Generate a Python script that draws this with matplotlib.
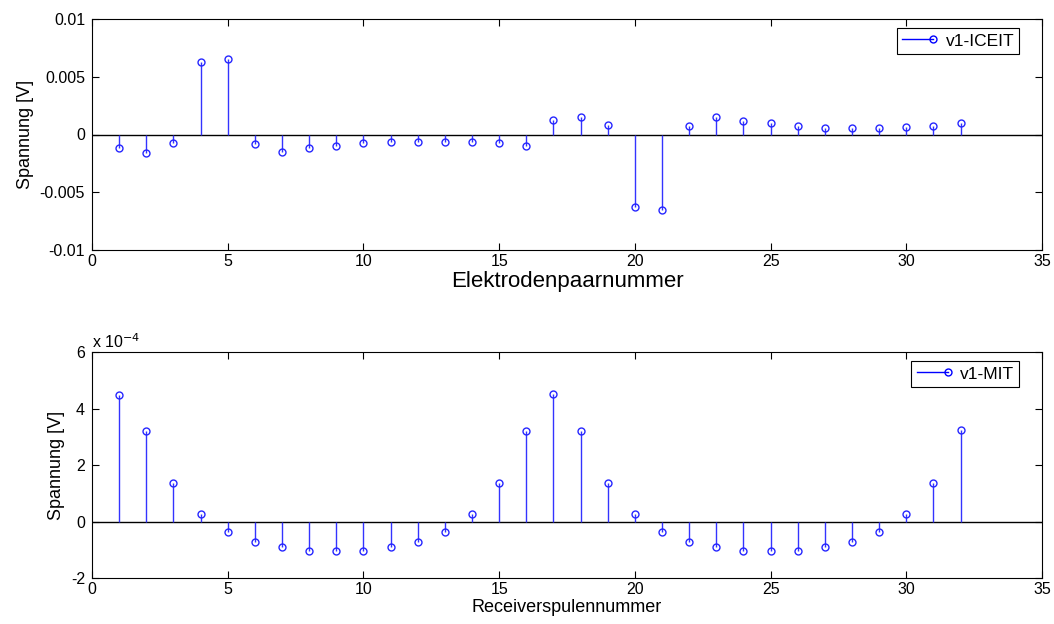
import matplotlib
matplotlib.use("Agg")
import matplotlib.pyplot as plt
from matplotlib.legend_handler import HandlerBase
from matplotlib.lines import Line2D
import numpy as np

plt.rcParams['font.family'] = ['Liberation Sans', 'DejaVu Sans']

# ---- data ----
electrode_pairs = list(range(1, 33))
v1_iceit = [-0.00119, -0.00159, -0.00075, 0.00629, 0.00658, -0.00081, -0.00151, -0.00119,
            -0.00099, -0.00075, -0.00067, -0.00061, -0.00061, -0.00067, -0.00075, -0.00099,
            0.00128, 0.00154, 0.00081, -0.00629, -0.00655, 0.00072, 0.00148, 0.00119,
            0.00099, 0.00075, 0.00058, 0.00058, 0.00058, 0.00067, 0.00072, 0.00099]

receiver_coils = list(range(1, 33))
v1_mit = [4.49e-4, 3.20e-4, 1.36e-4, 0.27e-4, -0.37e-4, -0.73e-4, -0.91e-4, -1.03e-4,
          -1.06e-4, -1.03e-4, -0.91e-4, -0.73e-4, -0.37e-4, 0.26e-4, 1.36e-4, 3.20e-4,
          4.53e-4, 3.20e-4, 1.36e-4, 0.25e-4, -0.37e-4, -0.73e-4, -0.91e-4, -1.03e-4,
          -1.06e-4, -1.03e-4, -0.91e-4, -0.73e-4, -0.37e-4, 0.25e-4, 1.36e-4, 3.23e-4]

x_ticks = [0, 5, 10, 15, 20, 25, 30, 35]
top_yticks = [-0.01, -0.005, 0, 0.005, 0.01]
top_yticklabels = ['-0.01', '-0.005', '0', '0.005', '0.01']
bot_yticks = [-2e-4, 0, 2e-4, 4e-4, 6e-4]
bot_yticklabels = ['-2', '0', '2', '4', '6']


class StemLegendHandler(HandlerBase):
    def create_artists(self, legend, orig_handle, xdescent, ydescent, width, height,
                       fontsize, trans):
        y = height / 2.0 - ydescent
        x0 = -xdescent
        x1 = -xdescent + width * 0.9
        line = Line2D([x0, x1], [y, y], color='b', linewidth=1.0)
        mark = Line2D([x1], [y], linestyle='none', marker='o', markersize=5,
                      markerfacecolor='none', markeredgecolor='b', markeredgewidth=1.0)
        line.set_transform(trans)
        mark.set_transform(trans)
        return [line, mark]


fig = plt.figure(figsize=(10.54, 6.24), dpi=100)
W, H = 1054, 624


def make_axes(left, top, right, bottom):
    return fig.add_axes([left / W, 1 - bottom / H, (right - left) / W, (bottom - top) / H])


def draw(ax, x, y, label, xlabel, xlabel_size, ylim, yticks, yticklabels):
    markerline, stemlines, baseline = ax.stem(x, y, linefmt='b-', markerfmt='bo', basefmt=' ')
    plt.setp(stemlines, linewidth=1.0, color=(0.2, 0.2, 1.0))
    plt.setp(markerline, markersize=5, markerfacecolor='none',
             markeredgecolor=(0.15, 0.15, 1.0), markeredgewidth=1.0)
    ax.axhline(0, color='k', linewidth=1.0, zorder=1)
    ax.set_xlim(0, 35)
    ax.set_ylim(*ylim)
    ax.set_xticks(x_ticks)
    ax.set_yticks(yticks)
    ax.set_yticklabels(yticklabels)
    ax.tick_params(direction='in', top=True, right=True, length=5, width=0.8,
                   labelsize=11.5, color='k')
    ax.tick_params(axis='y', pad=5)
    ax.tick_params(axis='x', pad=3)
    for s in ax.spines.values():
        s.set_linewidth(0.8)
    ax.set_xlabel(xlabel, fontsize=xlabel_size, labelpad=1)
    ax.set_ylabel('Spannung [V]', fontsize=13, labelpad=4)
    handle = Line2D([], [], color='b', marker='o')
    leg = ax.legend([handle], [label], loc='upper right', fontsize=12.5,
                    handler_map={Line2D: StemLegendHandler()},
                    fancybox=False, framealpha=1, edgecolor='k', borderpad=0.3,
                    handlelength=2.0, handletextpad=0.5, borderaxespad=0.5,
                    bbox_to_anchor=(1 - 14 / 950, 1 - 0.5 / 231))
    leg.get_frame().set_linewidth(0.8)


ax1 = make_axes(92, 19, 1042, 250)
draw(ax1, electrode_pairs, v1_iceit, 'v1-ICEIT', 'Elektrodenpaarnummer', 16,
     (-0.01, 0.01), top_yticks, top_yticklabels)

ax2 = make_axes(92, 352, 1042, 578)
draw(ax2, receiver_coils, v1_mit, 'v1-MIT', 'Receiverspulennummer', 13,
     (-2e-4, 6e-4), bot_yticks, bot_yticklabels)
ax2.text(0.0, 1.005, r'x 10$^{-4}$', transform=ax2.transAxes, fontsize=11.5,
         ha='left', va='bottom')

fig.savefig('out.png', dpi=100)
